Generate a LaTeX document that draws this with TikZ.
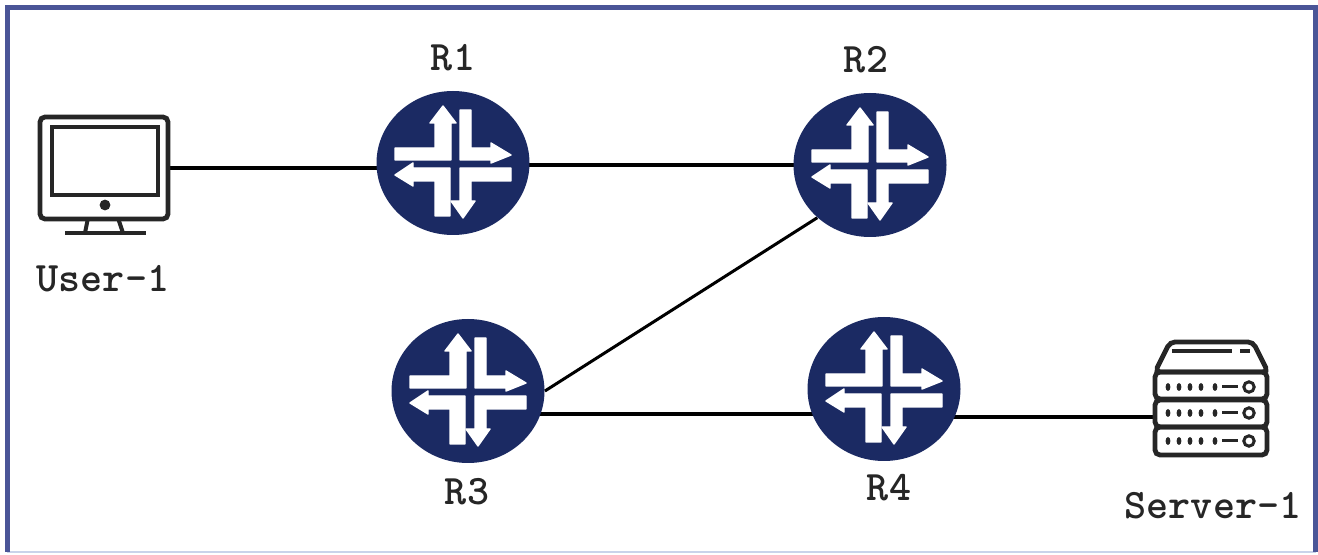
\documentclass[tikz,border=0pt]{standalone}
\usepackage{fontspec}
\usetikzlibrary{shapes.geometric,backgrounds}
\definecolor{routerblue}{HTML}{1B2A63}
\definecolor{framecol}{HTML}{4A5597}
\definecolor{framepale}{HTML}{C9D3EA}
\tikzset{
  router/.style={
    % The shape:
    shape=ellipse,inner sep=0pt,
    % The size:
    minimum width=76.5pt,minimum height=72pt,
    % The filling:
    fill=routerblue,
    % The four arrows:
    path picture={
      \begin{scope}[shift={(path picture bounding box.center)},white,line width=.7pt,line join=round]
        \filldraw (-58,-15) -- (-18,-15) -- (-18,-40) -- (-23,-40) -- (-10,-57) -- (3,-40) -- (-2,-40) -- (-2,-3) -- (-58,-3) -- cycle;
        \filldraw (7,-53) -- (18,-53) -- (18,-15) -- (38,-15) -- (38,-20) -- (58,-8) -- (38,0) -- (38,-3) -- (7,-3) -- cycle;
        \filldraw (-58,12) -- (-40,0) -- (-40,5) -- (-3,5) -- (-3,53) -- (-18,53) -- (-18,18) -- (-40,18) -- (-40,23) -- cycle;
        \filldraw (7,5) -- (58,5) -- (58,18) -- (18,18) -- (18,38) -- (22,38) -- (10,55) -- (-2,38) -- (7,38) -- cycle;
      \end{scope}
    }
  },
  devlabel/.style={font=\ttfamily\bfseries\fontsize{21}{23}\selectfont,text=black!85,inner sep=0pt},
  link/.style={line width=1.6pt,black},
  icon/.style={line width=2.4pt,black!85,rounded corners=2.5pt}
}
\begin{document}
\begin{tikzpicture}[x=.5pt,y=-.5pt]
	\useasboundingbox (0,0) rectangle (1318,555);
	% routers
	\node[router] (r1) at (453,163) {};
	\node[router] (r2) at (870,165) {};
	\node[router] (r3) at (468,391) {};
	\node[router] (r4) at (884,389) {};
	% end devices, only the outer boxes are nodes
	\node[draw,icon,minimum width=64pt,minimum height=51pt,inner sep=0pt] (user) at (104,168) {};
	\node[draw,icon,minimum width=56pt,minimum height=13.5pt,inner sep=0pt] (server) at (1211,413.5) {};
	% screen and stand
	\draw[icon,rounded corners=0pt] (52,127) rectangle (158,195);
	\fill[black!85] (105,205) circle (2.7pt);
	\draw[icon,rounded corners=0pt,line width=2pt] (88,218) -- (85,233);
	\draw[icon,rounded corners=0pt,line width=2pt] (118,218) -- (123,233);
	\draw[icon,rounded corners=0pt,line width=2pt] (65,233) -- (146,233);
	% server tiers
	\draw[icon] (1155,372) -- (1170,342) -- (1253,342) -- (1268,372) -- cycle;
	\draw[icon,rounded corners=0pt] (1172,351) -- (1232,351) (1240,351) -- (1250,351);
	\foreach \ytop/\ybot in {372/399,427/455}{
		\draw[icon] (1155,\ytop) rectangle (1267,\ybot);
	}
	\foreach \ydot in {387,413,441}{
		\foreach \xdot in {1168,1179,1190,1201,1215}{
			\fill[black!85] (\xdot,\ydot) ellipse (1.2pt and 2pt);
		}
		\draw[icon,rounded corners=0pt,line width=1.5pt] (1222,\ydot) -- (1238,\ydot);
		\draw[icon,line width=1.5pt] (1249,\ydot) circle (2.6pt);
	}
	\coordinate (serverport) at (1157,417);
	% links
	\begin{scope}[on background layer]
		\fill[white] (0,0) rectangle (1318,555);
		\draw[framepale,line width=1pt] (7,552) -- (1316,552);
		\draw[framecol,line width=2.5pt] (7.5,552) -- (7.5,7.5) -- (1315.5,7.5) -- (1315.5,552);
		\draw[link] (user.east) -- (user.east -| r1.center);
		\draw[link] (r2.center -| r1.center) -- (r2.center);
		\draw[link,line width=1.5pt] (r3.east) -- (r2.225);
		\draw[link] (r3.center |- 0,414) -- (r4.center |- 0,414);
		\draw[link] (serverport) -- (serverport -| r4.center);
	\end{scope}
	% labels
	\node[devlabel] (r1lab) at (453,58) {R1};
	\node[devlabel] (r2lab) at (866,60) {R2};
	\node[devlabel] (r3lab) at (467,492) {R3};
	\node[devlabel] (r4lab) at (889,488) {R4};
	\node[devlabel] (userlab) at (103,279) {User-1};
	\node[devlabel] (serverlab) at (1213,506) {Server-1};
\end{tikzpicture}
\end{document}
